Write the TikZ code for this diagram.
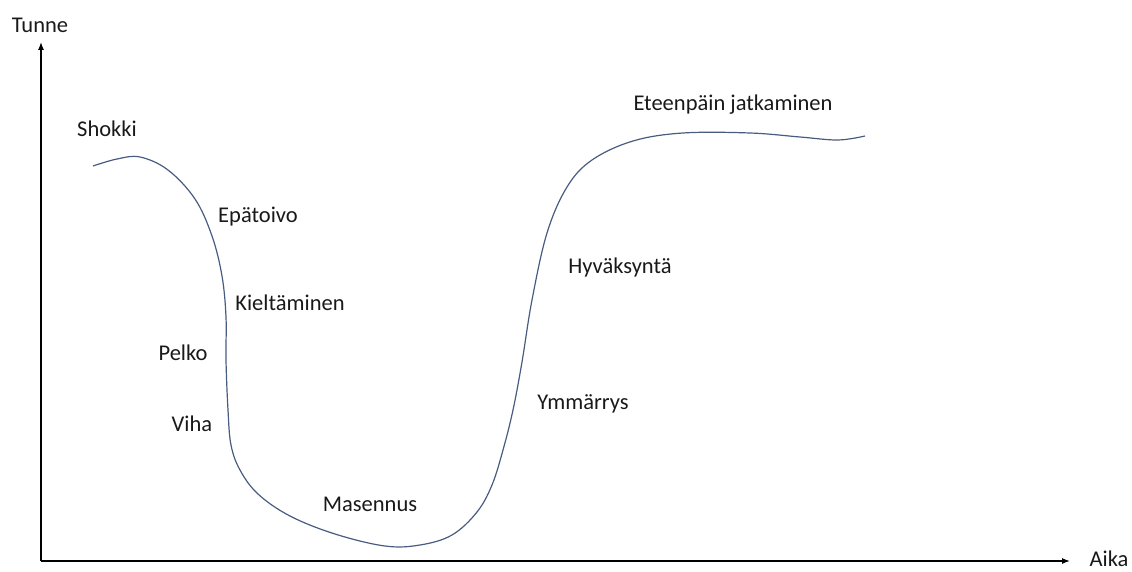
\documentclass[tikz,border=0pt]{standalone}
\usepackage{fontspec}
\setmainfont{Carlito}
\usetikzlibrary{arrows.meta}
\definecolor{curvecol}{RGB}{72,92,128}
\definecolor{txtcol}{RGB}{25,25,25}
\tikzset{
  axisline/.style={line width=1.3pt, black, -{Latex[length=8pt,width=6pt]}},
  lbl/.style={font=\fontsize{22.5}{26}\selectfont, text=txtcol, inner sep=0pt},
  curveline/.style={line width=1.2pt, curvecol}
}
\begin{document}
\begin{tikzpicture}[x=1pt,y=-1pt]
\useasboundingbox (0,0) rectangle (1132,572);
\coordinate (O) at (41,561);
\coordinate (ytip) at (41,42);
\coordinate (xtip) at (1070,561);
\draw[axisline] (O) -- (ytip);
\draw[axisline] (O) -- (xtip);
\node[lbl] (tunne) at (40,25) {Tunne};
\node[lbl] (aika) at (1109,559) {Aika};
\draw[curveline] plot[smooth, tension=0.6] coordinates {
 (93,166) (117,159) (140,157) (168,170) (195,199) (212,236) (222,276)
 (226,317) (226,360) (228,410) (231,445) (240,470) (258,494) (290,516) (335,534)
 (385,546) (420,545) (452,535) (477,512) (492,485) (503,450) (513,410) (522,362) (532,300)
 (547,233) (567,187) (592,160) (633,141) (683,133) (750,133) (800,137) (838,140) (865,136)};
\node[lbl] (shokki) at (107,129) {Shokki};
\node[lbl] (epatoivo) at (258,217) {Epätoivo};
\node[lbl] (kielt) at (290,303) {Kieltäminen};
\node[lbl] (pelko) at (183,353) {Pelko};
\node[lbl] (viha) at (192,424) {Viha};
\node[lbl] (masennus) at (370,504) {Masennus};
\node[lbl] (ymmarrys) at (583,404) {Ymmärrys};
\node[lbl] (hyvaksynta) at (620,268) {Hyväksyntä};
\node[lbl] (eteenpain) at (733,105) {Eteenpäin jatkaminen};
\end{tikzpicture}
\end{document}
